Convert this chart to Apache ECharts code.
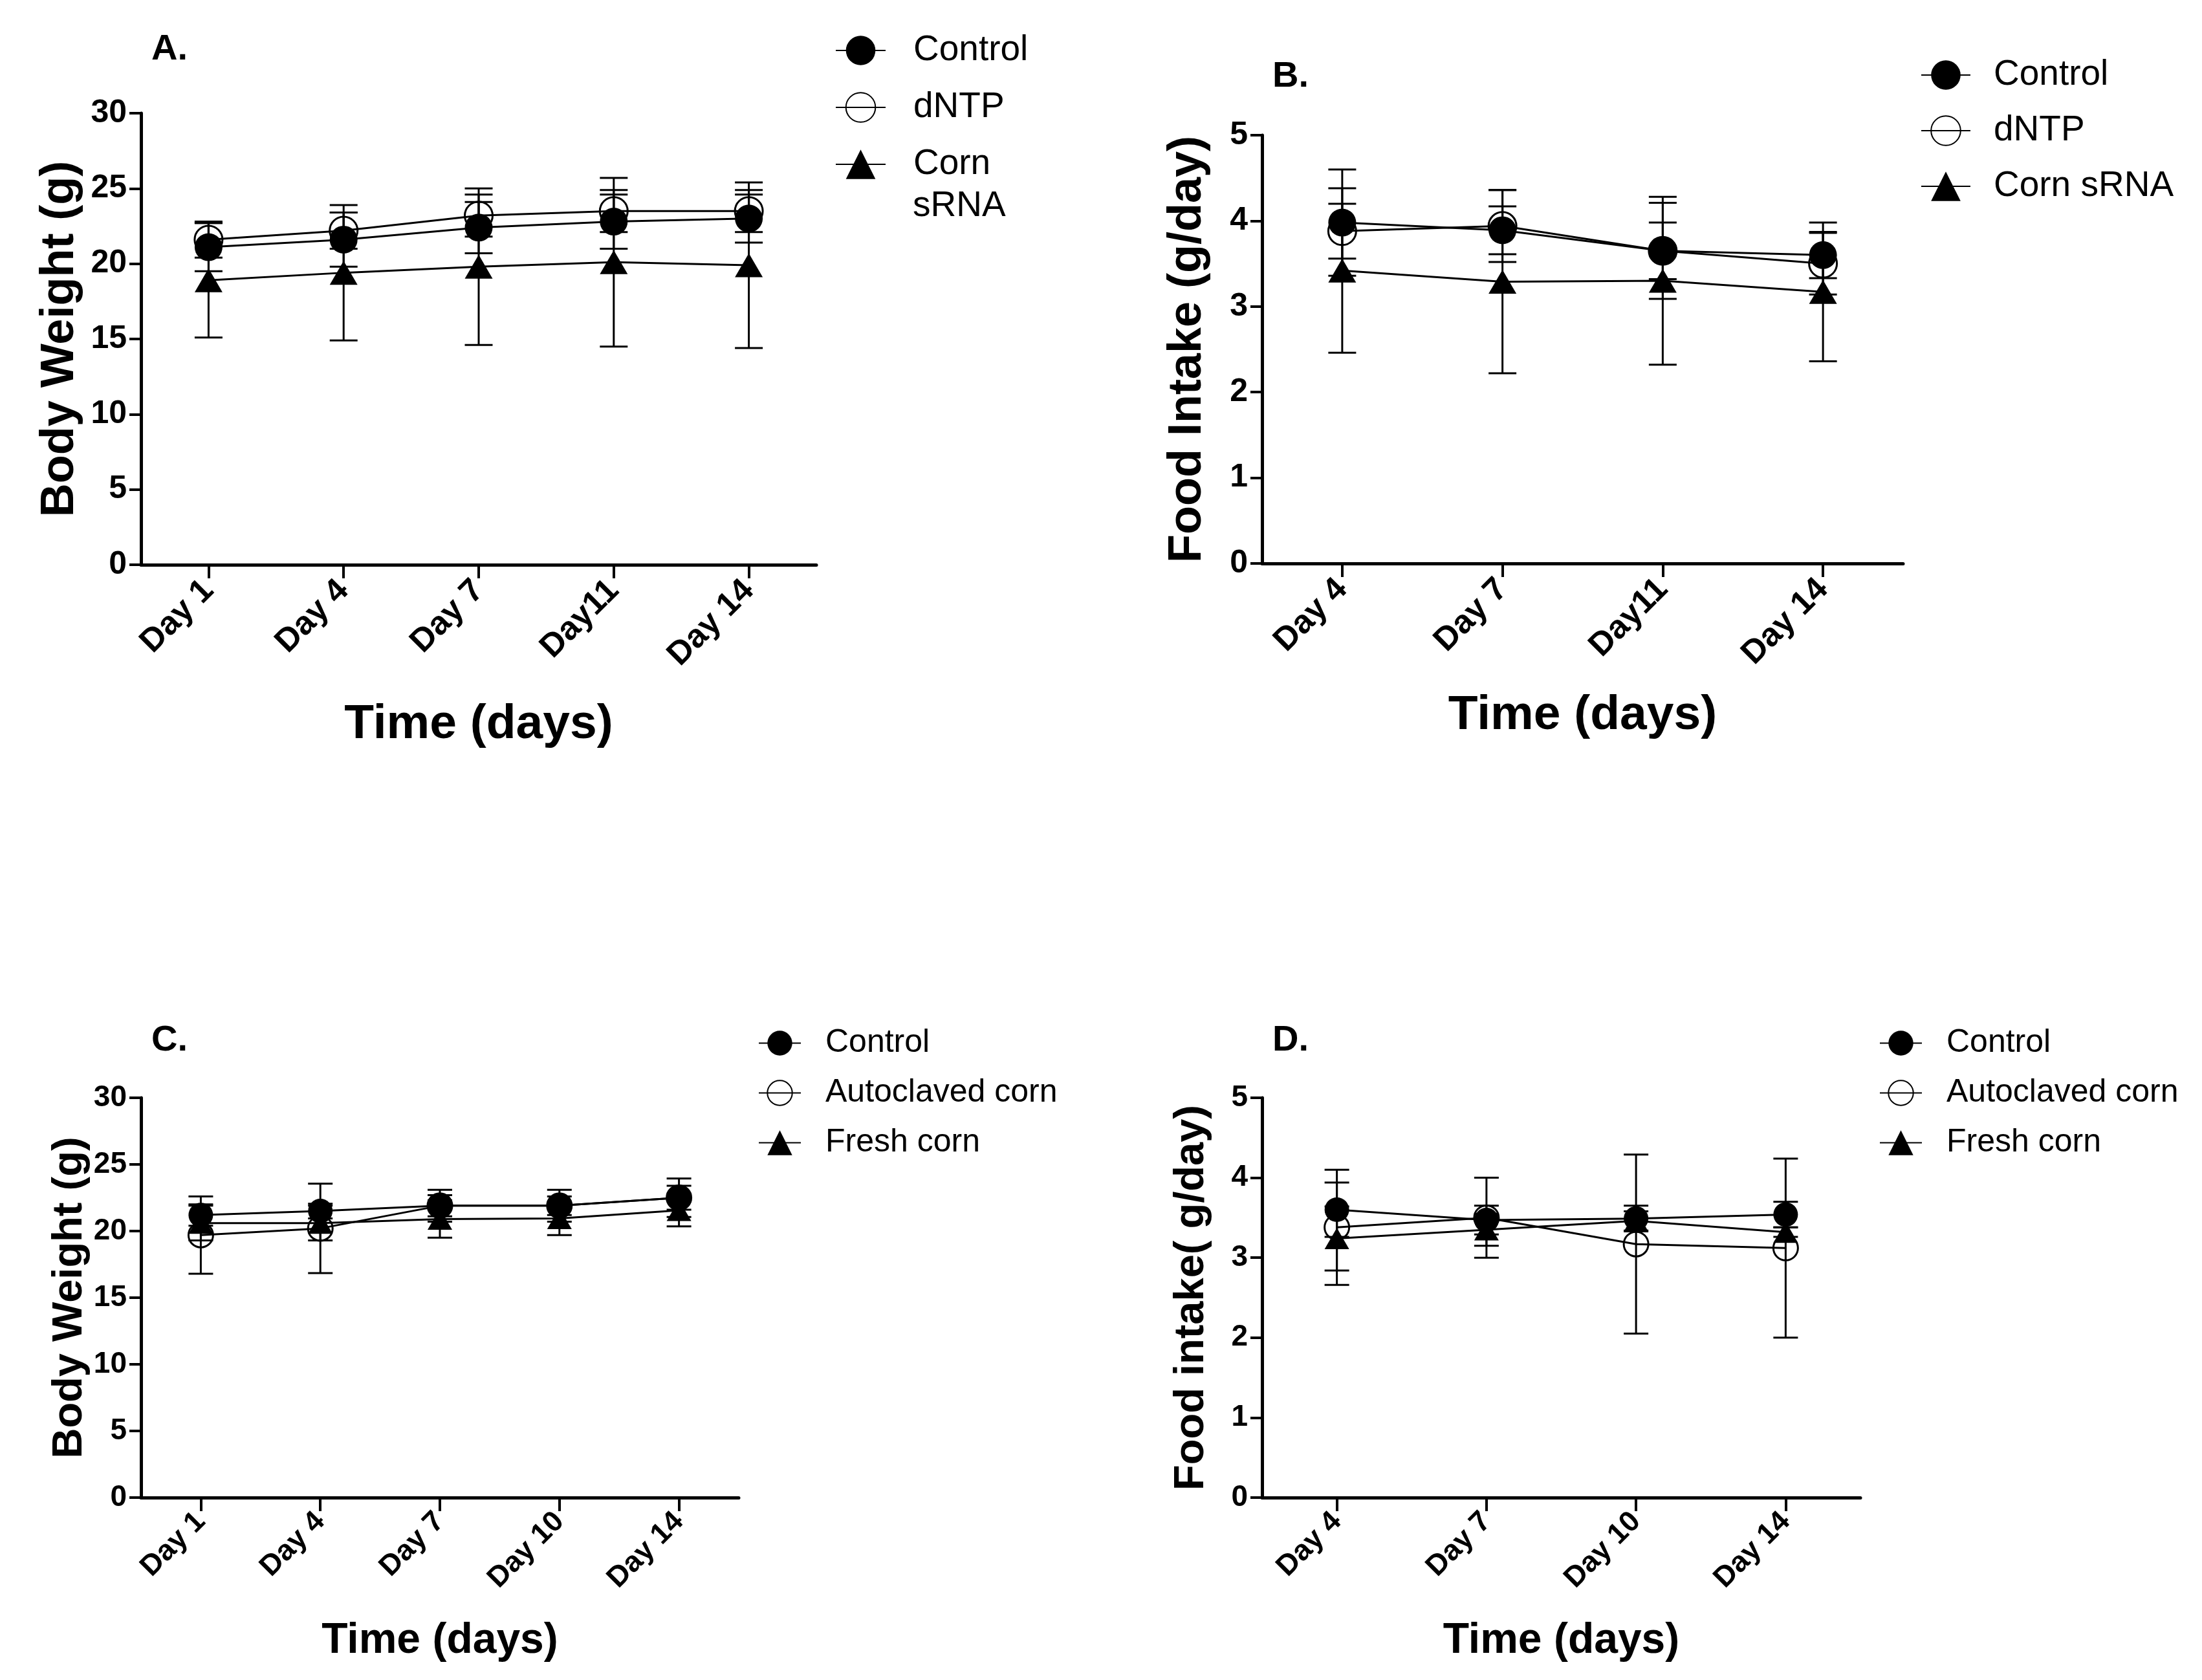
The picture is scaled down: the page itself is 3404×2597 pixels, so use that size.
<!DOCTYPE html>
<html>
<head>
<meta charset="utf-8">
<title>Body weight and food intake</title>
<script src="https://cdn.jsdelivr.net/npm/echarts@6/dist/echarts.min.js"></script>
<style>
html, body { margin: 0; padding: 0; background: #fff; }
#main { width: 3404px; height: 2597px; }
</style>
</head>
<body>
<div id="main"></div>
<script>
// 体重 / 采食量 四联图 (A-D)
var daysA = ['Day 1', 'Day 4', 'Day 7', 'Day11', 'Day 14'];
var daysB = ['Day 4', 'Day 7', 'Day11', 'Day 14'];
var daysC = ['Day 1', 'Day 4', 'Day 7', 'Day 10', 'Day 14'];
var daysD = ['Day 4', 'Day 7', 'Day 10', 'Day 14'];

// A. body weight (g)
var wtControlA    = [21.1, 21.6, 22.4, 22.8, 23.0];
var wtControlErrA = [1.6, 1.8, 1.7, 1.8, 1.6];
var wtDntpA       = [21.6, 22.2, 23.2, 23.5, 23.5];
var wtDntpErrA    = [1.2, 1.2, 1.4, 1.4, 1.4];
var wtCornA       = [18.9, 19.4, 19.8, 20.1, 19.9];
var wtCornErrA    = [3.8, 4.5, 5.2, 5.6, 5.5];

// B. food intake (g/day)
var fiControlB    = [3.98, 3.89, 3.65, 3.60];
var fiControlErrB = [0.62, 0.28, 0.33, 0.27];
var fiDntpB       = [3.88, 3.94, 3.65, 3.50];
var fiDntpErrB    = [0.32, 0.42, 0.56, 0.36];
var fiCornB       = [3.42, 3.29, 3.30, 3.17];
var fiCornErrB    = [0.96, 1.07, 0.98, 0.81];

// C. body weight (g)
var wtControlC    = [21.2, 21.5, 21.9, 21.9, 22.5];
var wtControlErrC = [0.8, 0.55, 1.2, 1.2, 1.45];
var wtAutoC       = [19.7, 20.2, 21.9, 21.9, 22.5];
var wtAutoErrC    = [2.9, 3.35, 0.8, 0.7, 0.9];
var wtFreshC      = [20.6, 20.6, 20.9, 20.95, 21.55];
var wtFreshErrC   = [1.3, 1.3, 1.4, 1.25, 1.2];

// D. food intake (g/day)
var fiControlD    = [3.60, 3.47, 3.49, 3.54];
var fiControlErrD = [0.34, 0.18, 0.16, 0.16];
var fiAutoD       = [3.38, 3.50, 3.17, 3.12];
var fiAutoErrD    = [0.72, 0.50, 1.12, 1.12];
var fiFreshD      = [3.24, 3.35, 3.46, 3.32];
var fiFreshErrD   = [0.40, 0.20, 0.12, 0.06];

var FONT = '"Liberation Sans", Arial, Helvetica, sans-serif';

var panels = [
	{ letter: 'A.', cats: daysA, max: 30, interval: 5, yName: 'Body Weight (g)',
	  grid: { left: 218, top: 175, width: 1044, height: 698 },
	  yNameSize: 72, yGap: 89, xNameSize: 75, xGap: 210, tickSize: 50, catSize: 51, catMargin: 32, mark: 43,
	  letterPos: [234, 49], legendNames: ['Control', 'dNTP', 'Corn sRNA'],
	  legend: { left: 1291, top: 48, itemWidth: 77, itemHeight: 57, itemGap: 28, fontSize: 55, lineHeight: 60, padLeft: 38 },
	  groups: [
		{ name: 'Corn sRNA', kind: 'tri', mean: wtCornA, err: wtCornErrA },
		{ name: 'dNTP', kind: 'open', mean: wtDntpA, err: wtDntpErrA },
		{ name: 'Control', kind: 'fill', mean: wtControlA, err: wtControlErrA }
	  ] },
	{ letter: 'B.', cats: daysB, max: 5, interval: 1, yName: 'Food Intake (g/day)',
	  grid: { left: 1951, top: 209, width: 991, height: 662 },
	  yNameSize: 72, yGap: 79, xNameSize: 75, xGap: 198, tickSize: 50, catSize: 51, catMargin: 32, mark: 43,
	  letterPos: [1967, 91], legendNames: ['Control', 'dNTP', 'Corn sRNA'],
	  legend: { left: 2969, top: 86, itemWidth: 76, itemHeight: 57, itemGap: 26, fontSize: 55, lineHeight: 60, padLeft: 31 },
	  groups: [
		{ name: 'Corn sRNA', kind: 'tri', mean: fiCornB, err: fiCornErrB },
		{ name: 'dNTP', kind: 'open', mean: fiDntpB, err: fiDntpErrB },
		{ name: 'Control', kind: 'fill', mean: fiControlB, err: fiControlErrB }
	  ] },
	{ letter: 'C.', cats: daysC, max: 30, interval: 5, yName: 'Body Weight (g)',
	  grid: { left: 218, top: 1697, width: 924, height: 618 },
	  yNameSize: 65, yGap: 76, xNameSize: 66, xGap: 189, tickSize: 46, catSize: 45, catMargin: 30, mark: 38,
	  letterPos: [234, 1581], legendNames: ['Control', 'Autoclaved corn', 'Fresh corn'],
	  legend: { left: 1172, top: 1585, itemWidth: 65, itemHeight: 48, itemGap: 22, fontSize: 50, lineHeight: 55, padLeft: 33 },
	  groups: [
		{ name: 'Fresh corn', kind: 'tri', mean: wtFreshC, err: wtFreshErrC },
		{ name: 'Autoclaved corn', kind: 'open', mean: wtAutoC, err: wtAutoErrC },
		{ name: 'Control', kind: 'fill', mean: wtControlC, err: wtControlErrC }
	  ] },
	{ letter: 'D.', cats: daysD, max: 5, interval: 1, yName: 'Food intake( g/day)',
	  grid: { left: 1951, top: 1697, width: 925, height: 618 },
	  yNameSize: 65, yGap: 76, xNameSize: 66, xGap: 189, tickSize: 46, catSize: 45, catMargin: 30, mark: 38,
	  letterPos: [1967, 1581], legendNames: ['Control', 'Autoclaved corn', 'Fresh corn'],
	  legend: { left: 2905, top: 1585, itemWidth: 65, itemHeight: 48, itemGap: 22, fontSize: 50, lineHeight: 55, padLeft: 33 },
	  groups: [
		{ name: 'Fresh corn', kind: 'tri', mean: fiFreshD, err: fiFreshErrD },
		{ name: 'Autoclaved corn', kind: 'open', mean: fiAutoD, err: fiAutoErrD },
		{ name: 'Control', kind: 'fill', mean: fiControlD, err: fiControlErrD }
	  ] }
];

//误差线 (mean ± err)
function errorBars(name, means, errs, idx, capW) {
	var data = [];
	for (var i = 0; i < means.length; i++) {
		data.push([i, means[i] - errs[i], means[i] + errs[i]]);
	}
	return {
		type: 'custom', name: name + ' err', xAxisIndex: idx, yAxisIndex: idx,
		z: 2, silent: true, encode: { x: 0, y: [1, 2] },
		renderItem: function (params, api) {
			var lo = api.coord([api.value(0), api.value(1)]);
			var hi = api.coord([api.value(0), api.value(2)]);
			var h = capW / 2;
			var st = { stroke: '#000', lineWidth: 3 };
			return { type: 'group', children: [
				{ type: 'line', shape: { x1: lo[0], y1: lo[1], x2: hi[0], y2: hi[1] }, style: st },
				{ type: 'line', shape: { x1: lo[0] - h, y1: lo[1], x2: lo[0] + h, y2: lo[1] }, style: st },
				{ type: 'line', shape: { x1: hi[0] - h, y1: hi[1], x2: hi[0] + h, y2: hi[1] }, style: st }
			] };
		},
		data: data
	};
}

//均值折线
function meanLine(g, idx, size) {
	return {
		type: 'line', name: g.name, xAxisIndex: idx, yAxisIndex: idx, z: 3,
		data: g.mean,
		symbol: g.kind === 'tri' ? 'triangle' : 'circle',
		symbolSize: g.kind === 'tri' ? [size, Math.round(size * 0.87)] : size,
		lineStyle: { color: '#000', width: 3 },
		itemStyle: g.kind === 'open'
			? { color: 'rgba(255,255,255,0)', borderColor: '#000', borderWidth: 3 }
			: { color: '#000', borderColor: '#000', borderWidth: 0 },
		emphasis: { disabled: true }
	};
}

var grids = [], xAxes = [], yAxes = [], series = [], legends = [], titles = [];
var $each = function (arr, fn) { for (var i = 0; i < arr.length; i++) fn(i, arr[i]); };

$each(panels, function (idx, p) {
	grids.push({ left: p.grid.left, top: p.grid.top, width: p.grid.width, height: p.grid.height,
		containLabel: false, outerBoundsMode: 'none' });
	xAxes.push({
		type: 'category', gridIndex: idx, data: p.cats, boundaryGap: true,
		name: 'Time (days)', nameLocation: 'middle', nameGap: p.xGap,
		nameTextStyle: { fontSize: p.xNameSize, fontWeight: 'bold', color: '#000', fontFamily: FONT },
		axisLine: { show: true, lineStyle: { color: '#000', width: 5 } },
		axisTick: { show: true, alignWithLabel: true, length: 21, lineStyle: { color: '#000', width: 4 } },
		axisLabel: { interval: 0, rotate: 45, margin: p.catMargin, fontSize: p.catSize, fontWeight: 'bold',
			color: '#000', fontFamily: FONT },
		splitLine: { show: false }
	});
	yAxes.push({
		type: 'value', gridIndex: idx, min: 0, max: p.max, interval: p.interval,
		name: p.yName, nameLocation: 'middle', nameGap: p.yGap,
		nameTextStyle: { fontSize: p.yNameSize, fontWeight: 'bold', color: '#000', fontFamily: FONT },
		axisLine: { show: true, lineStyle: { color: '#000', width: 5 } },
		axisTick: { show: true, length: 18, lineStyle: { color: '#000', width: 4 } },
		axisLabel: { margin: 22, fontSize: p.tickSize, fontWeight: 'bold', color: '#000', fontFamily: FONT },
		splitLine: { show: false }
	});
	$each(p.groups, function (k, g) {
		series.push(errorBars(g.name, g.mean, g.err, idx, p.mark));
	});
	$each(p.groups, function (k, g) {
		series.push(meanLine(g, idx, p.mark));
	});
	var lg = p.legend;
	legends.push({
		orient: 'vertical', left: lg.left, top: lg.top, padding: 0,
		itemWidth: lg.itemWidth, itemHeight: lg.itemHeight, itemGap: lg.itemGap,
		selectedMode: false, data: p.legendNames,
		formatter: idx === 0 ? function (n) { return n === 'Corn sRNA' ? 'Corn' : n; } : '{name}',
		textStyle: { fontSize: lg.fontSize, lineHeight: lg.lineHeight, color: '#000', fontFamily: FONT,
			padding: [0, 0, 0, lg.padLeft] }
	});
	titles.push({
		text: p.letter, left: p.letterPos[0], top: p.letterPos[1], padding: 0,
		textStyle: { fontSize: 56, fontWeight: 'bold', color: '#000', fontFamily: FONT }
	});
});

var myChart = echarts.init(document.getElementById('main'), null, { renderer: 'canvas' });
var option = {
	backgroundColor: '#fff',
	animation: false,
	textStyle: { fontFamily: FONT, color: '#000' },
	title: titles,
	legend: legends,
	grid: grids,
	xAxis: xAxes,
	yAxis: yAxes,
	series: series,
	graphic: [
		// A 图例第二行
		{ type: 'text', x: 1411, y: 319,
		  style: { text: 'sRNA', fontSize: 55, fontFamily: FONT, fill: '#000', verticalAlign: 'middle' } }
	]
};
myChart.setOption(option);
</script>
</body>
</html>
